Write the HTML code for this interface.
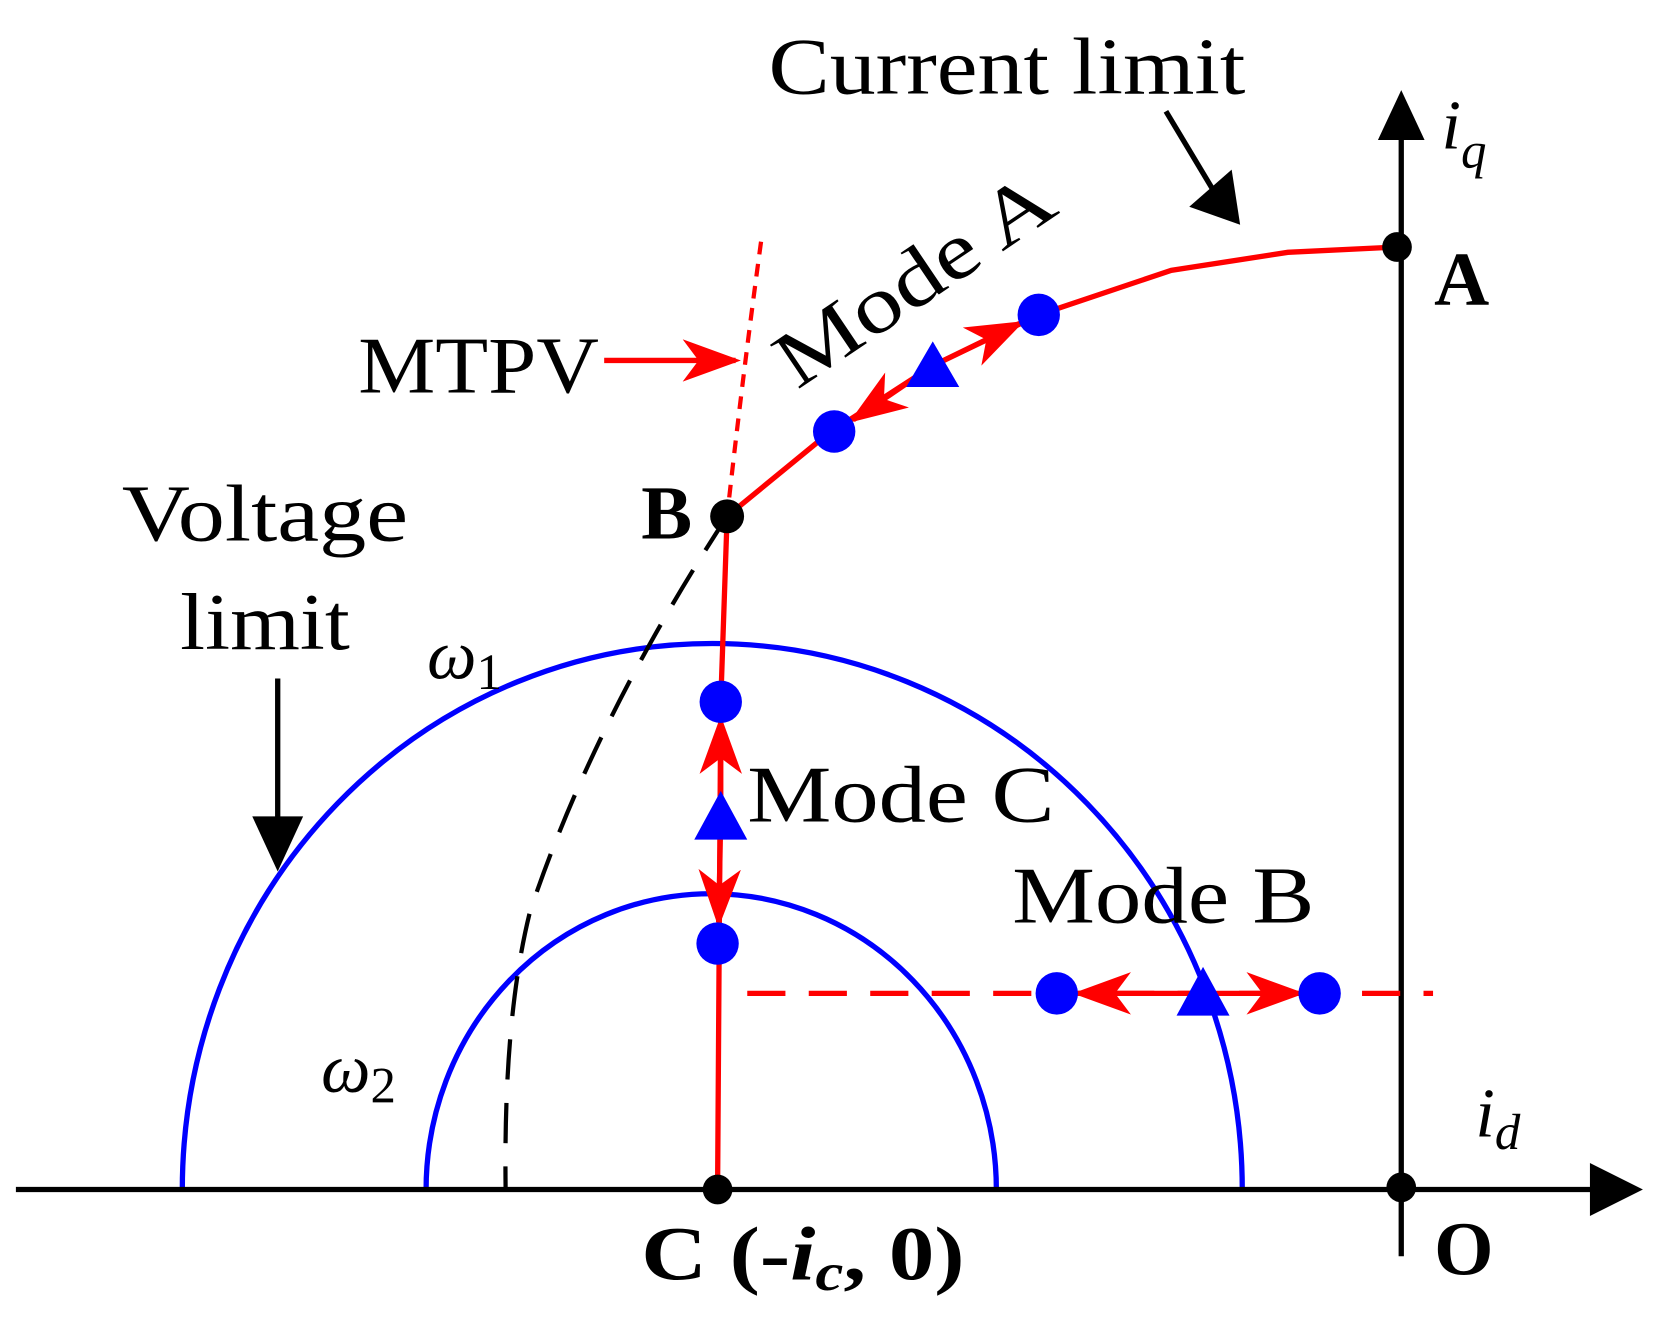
<!DOCTYPE html>
<html><head><meta charset="utf-8"><style>html,body{margin:0;padding:0;background:#fff}svg{display:block}</style></head><body>
<svg width="1662" height="1339" viewBox="0 0 1568 1263" preserveAspectRatio="none" xmlns="http://www.w3.org/2000/svg" font-family="Liberation Serif, serif">
<defs>
<marker id="ra" markerWidth="11" markerHeight="8" refX="10" refY="4" orient="auto" markerUnits="strokeWidth"><path d="M0,0 L11,4 L0,8 L3,4 z" fill="#f00"/></marker>
</defs>
<path d="M172,1122 A500,515 0 0 1 1172,1122" fill="none" stroke="#00f" stroke-width="5"/>
<path d="M402,1122 A269,279 0 0 1 940,1122" fill="none" stroke="#00f" stroke-width="5"/>
<line x1="15" y1="1122" x2="1505" y2="1122" stroke="#000" stroke-width="5"/>
<path d="M1500,1097 L1550,1122 L1500,1147 z" fill="#000"/>
<line x1="1322" y1="1185" x2="1322" y2="125" stroke="#000" stroke-width="5"/>
<path d="M1300,132 L1322,85 L1344,132 z" fill="#000"/>
<path d="M686,487 Q560,680 500,860 Q475,960 477,1120" fill="none" stroke="#000" stroke-width="4" stroke-dasharray="38,22"/>
<path d="M718,228 Q700,360 686,487" fill="none" stroke="#f00" stroke-width="4" stroke-dasharray="12,9"/>
<polyline points="686,487 780,410 880,345 980,297 1105,255 1215,238 1318,233" fill="none" stroke="#f00" stroke-width="5"/>
<polyline points="686,487 680,662 677,1122" fill="none" stroke="#f00" stroke-width="5"/>
<line x1="705" y1="937" x2="1352" y2="937" stroke="#f00" stroke-width="5" stroke-dasharray="36,22"/>
<line x1="570" y1="340" x2="694" y2="340" stroke="#f00" stroke-width="5" marker-end="url(#ra)"/>
<line x1="880" y1="345" x2="962" y2="305" stroke="#f00" stroke-width="5" marker-end="url(#ra)"/>
<line x1="880" y1="345" x2="805" y2="396" stroke="#f00" stroke-width="5" marker-end="url(#ra)"/>
<line x1="680" y1="770" x2="680" y2="680" stroke="#f00" stroke-width="5" marker-end="url(#ra)"/>
<line x1="680" y1="770" x2="678" y2="870" stroke="#f00" stroke-width="5" marker-end="url(#ra)"/>
<line x1="1135" y1="937" x2="1017" y2="937" stroke="#f00" stroke-width="5" marker-end="url(#ra)"/>
<line x1="1135" y1="937" x2="1226" y2="937" stroke="#f00" stroke-width="5" marker-end="url(#ra)"/>
<line x1="1100" y1="105" x2="1145" y2="180" stroke="#000" stroke-width="5"/>
<path d="M1122,195 L1170,212 L1162,160 z" fill="#000"/>
<line x1="262" y1="640" x2="262" y2="780" stroke="#000" stroke-width="5"/>
<path d="M238,770 L262,822 L286,770 z" fill="#000"/>
<g fill="#00f">
<circle cx="980" cy="297" r="20"/><circle cx="787" cy="407" r="20"/>
<path d="M880,322 L905,365 L855,365 z"/>
<circle cx="680" cy="662" r="20"/><circle cx="677" cy="890" r="20"/>
<path d="M680,746 L705,792 L655,792 z"/>
<circle cx="997" cy="937" r="20"/><circle cx="1245" cy="937" r="20"/>
<path d="M1135,912 L1160,958 L1110,958 z"/>
</g>
<g fill="#000">
<circle cx="1318" cy="233" r="14"/><circle cx="1322" cy="1120" r="14"/>
<circle cx="677" cy="1122" r="14"/><circle cx="686" cy="487" r="16"/>
</g>
<g font-size="76" fill="#000">
<text x="725" y="88" textLength="450" lengthAdjust="spacingAndGlyphs">Current limit</text>
<text x="338" y="370" textLength="227" lengthAdjust="spacingAndGlyphs">MTPV</text>
<text x="115" y="510" textLength="270" lengthAdjust="spacingAndGlyphs">Voltage</text>
<text x="170" y="612" textLength="160" lengthAdjust="spacingAndGlyphs">limit</text>
<text x="705" y="775" textLength="290" lengthAdjust="spacingAndGlyphs">Mode C</text>
<text x="955" y="870" textLength="285" lengthAdjust="spacingAndGlyphs">Mode B</text>
<text x="0" y="0" transform="translate(752,368) rotate(-34)" textLength="300" lengthAdjust="spacingAndGlyphs">Mode A</text>
</g>
<g font-size="72" font-weight="bold" fill="#000">
<text x="1353" y="287">A</text>
<text x="1353" y="1202">O</text>
<text x="605" y="508">B</text>
<text x="605" y="1207" textLength="305" lengthAdjust="spacingAndGlyphs">C (-<tspan font-style="italic">i</tspan><tspan font-style="italic" font-size="50" dy="10">c</tspan><tspan dy="-10">, 0)</tspan></text>
</g>
<g font-size="66" font-style="italic" fill="#000">
<text x="1360" y="140">i<tspan font-size="48" dy="18">q</tspan></text>
<text x="1392" y="1072">i<tspan font-size="48" dy="12">d</tspan></text>
<text x="403" y="640">ω<tspan font-size="48" font-style="normal" dy="10">1</tspan></text>
<text x="303" y="1030">ω<tspan font-size="48" font-style="normal" dy="10">2</tspan></text>
</g>
</svg>
</body></html>
